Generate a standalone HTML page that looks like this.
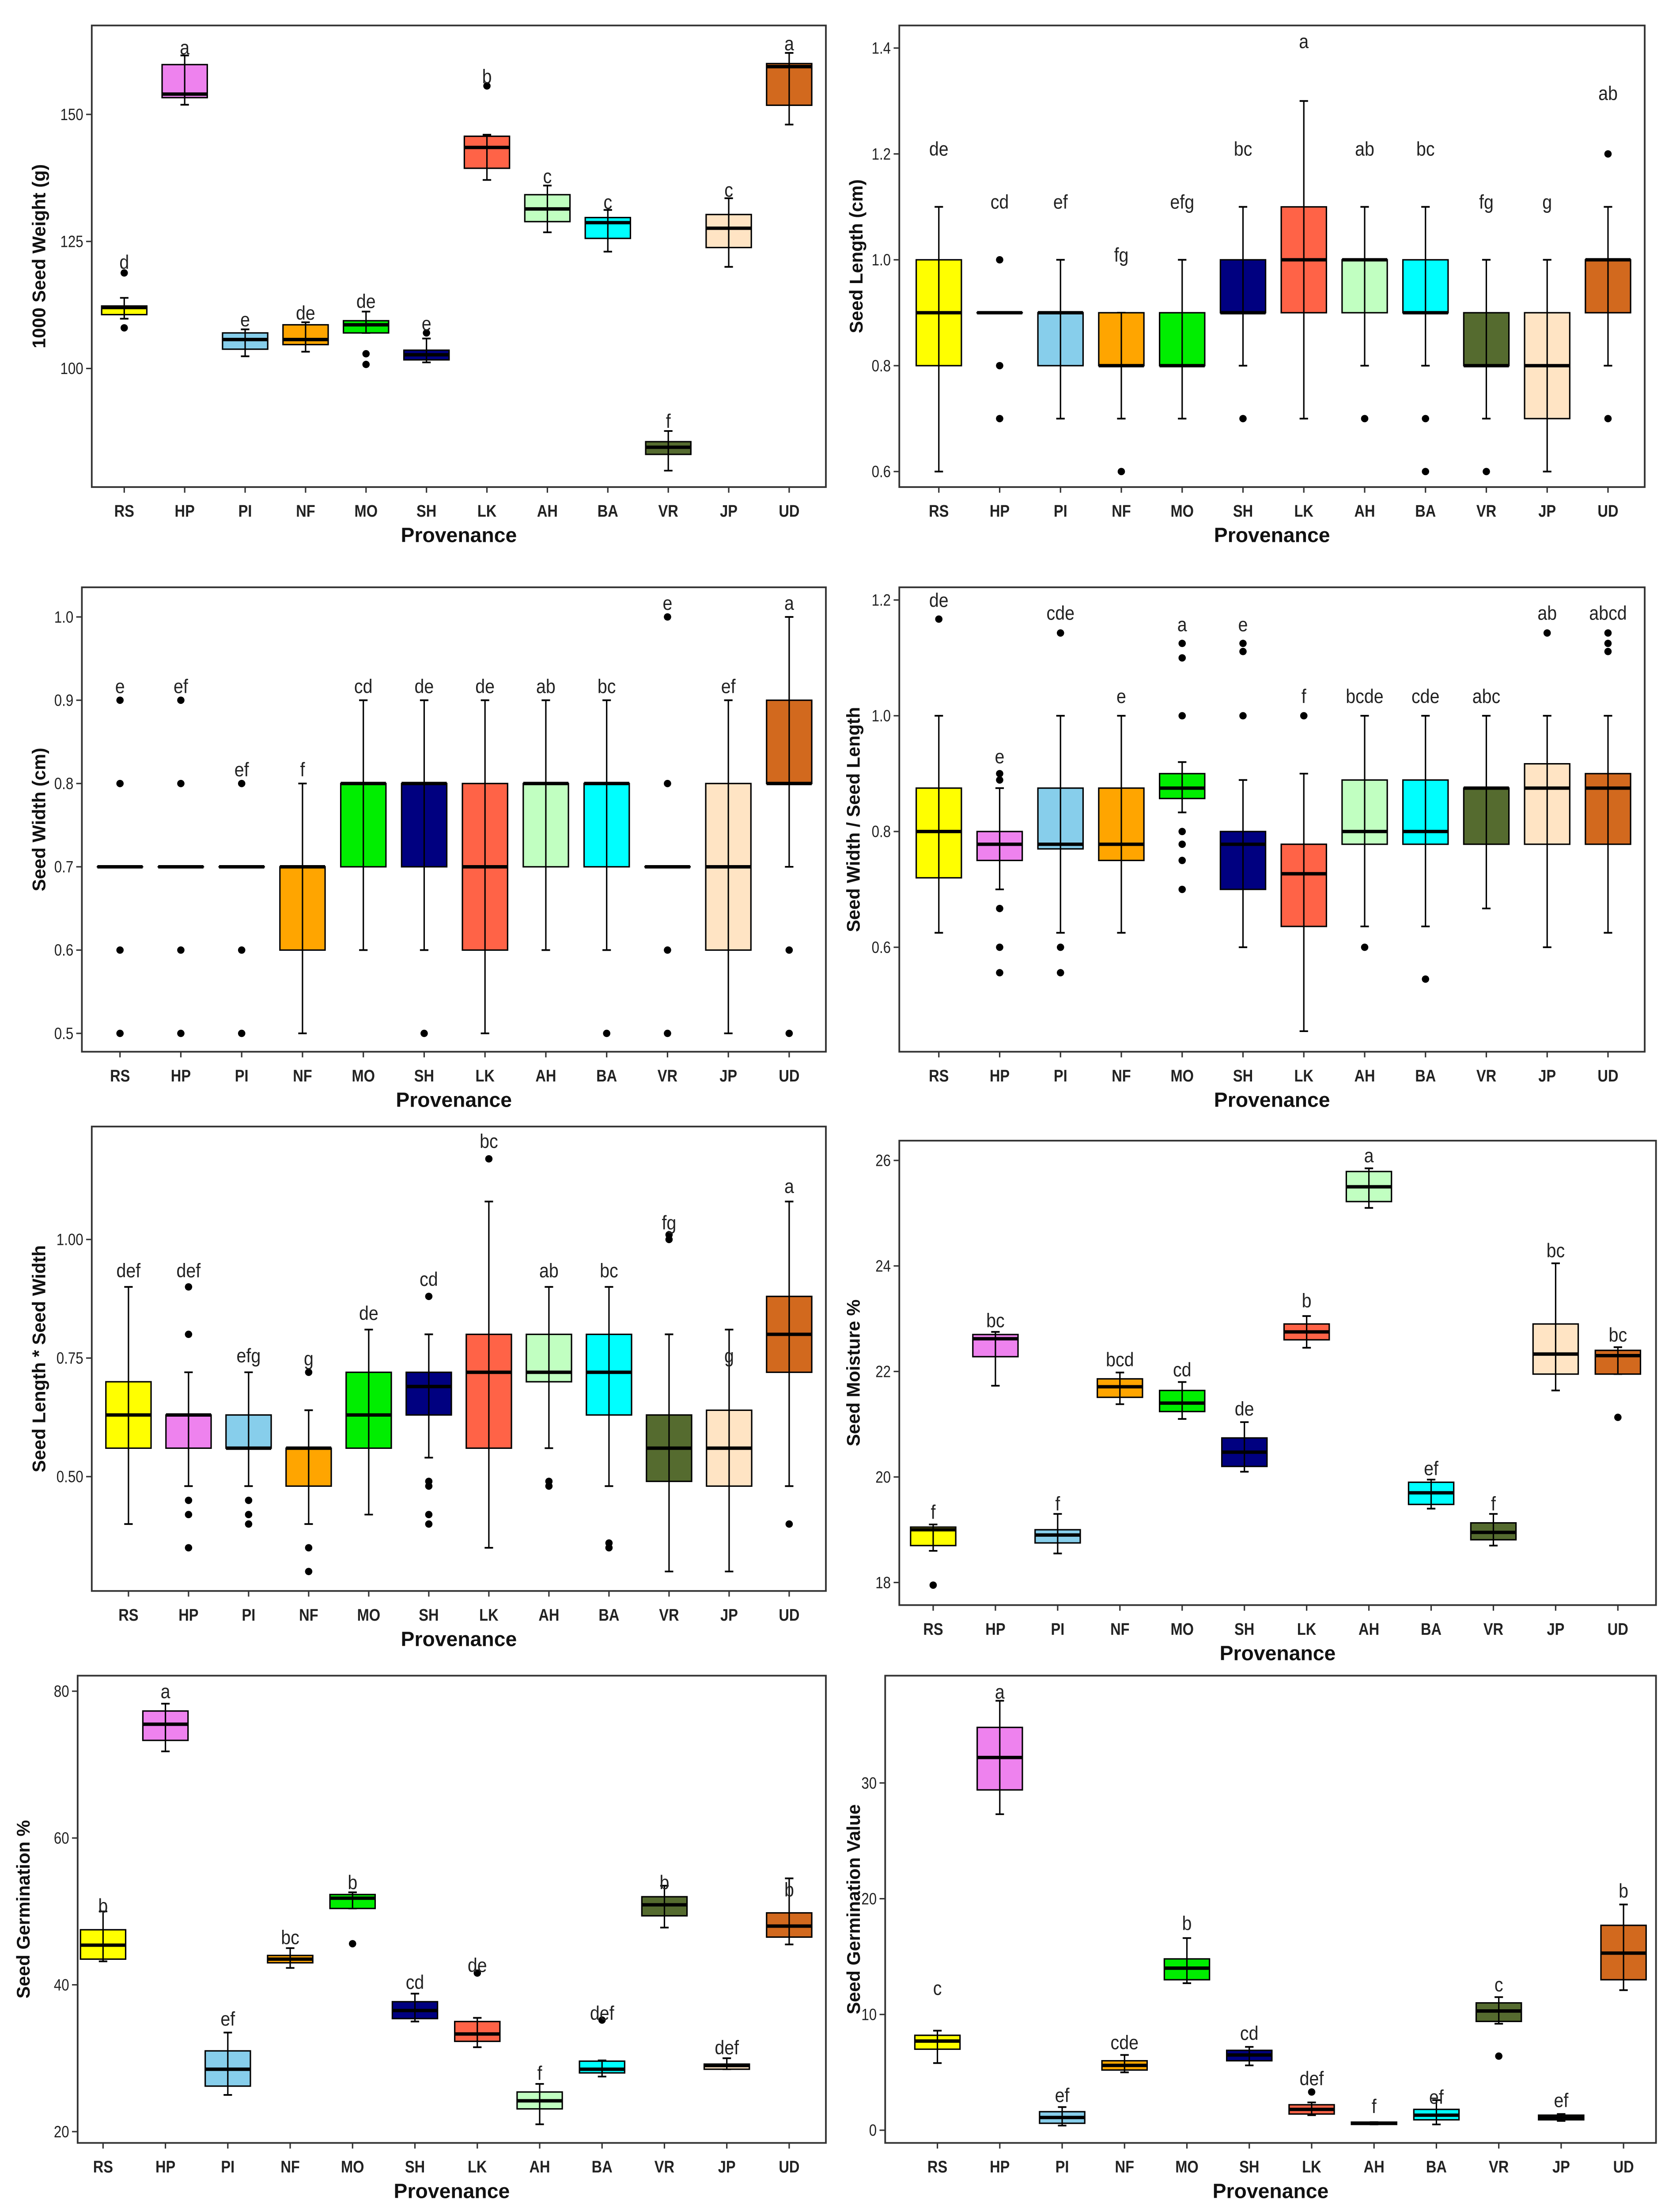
<!DOCTYPE html>
<html><head><meta charset="utf-8">
<style>
html,body{margin:0;padding:0;background:#fff;overflow:hidden;width:3804px;height:5003px;}
svg{display:block;position:absolute;left:0;top:0;}
text{font-family:"Liberation Sans",sans-serif;}
</style></head>
<body>
<svg id="root" width="3804" height="5003" viewBox="0 0 1190 1565" xmlns="http://www.w3.org/2000/svg">
<rect x="0" y="0" width="1190" height="1565" fill="#fff"/>
</svg>
<script>
const categories = ["RS","HP","PI","NF","MO","SH","LK","AH","BA","VR","JP","UD"];
const fills = ["#FFFF00","#EE82EE","#87CEEB","#FFA500","#00EE00","#000080","#FF6347","#C1FFC1","#00FFFF","#556B2F","#FFE4C4","#D2691E"];

// each series: [lowWhisker, q1, median, q3, highWhisker]
const weightStats = [[109.8,110.6,112.0,112.3,113.9],[151.9,153.3,154.0,159.8,161.6],[102.4,103.8,105.7,107.0,107.7],[103.3,104.7,105.7,108.6,109.1],[107.0,107.0,108.6,109.4,111.2],[101.2,101.7,102.7,103.6,105.9],[137.1,139.4,143.5,145.7,146.0],[126.8,128.9,131.4,134.2,136.0],[123.0,125.6,128.7,129.7,131.2],[79.9,83.1,84.5,85.6,87.7],[120.0,123.8,127.6,130.3,133.5],[148.0,151.8,159.4,160.0,162.1]];
const weightOutliers = [[118.8,108],[],[],[],[102.9,100.8],[107.0],[155.6],[],[],[],[],[]];
const weightLetters = ["d","a","e","de","de","e","b","c","c","f","c","a"];
const weightLetterPos = [121,163.2,109.7,111,113.3,108.9,157.5,137.9,132.8,89.7,135.2,164];

const lengthStats = [[0.6,0.8,0.9,1.0,1.1],[0.9,0.9,0.9,0.9,0.9],[0.7,0.8,0.9,0.9,1.0],[0.7,0.8,0.8,0.9,0.9],[0.7,0.8,0.8,0.9,1.0],[0.8,0.9,0.9,1.0,1.1],[0.7,0.9,1.0,1.1,1.3],[0.8,0.9,1.0,1.0,1.1],[0.8,0.9,0.9,1.0,1.1],[0.7,0.8,0.8,0.9,1.0],[0.6,0.7,0.8,0.9,1.0],[0.8,0.9,1.0,1.0,1.1]];
const lengthOutliers = [[],[1.0,0.8,0.7],[],[0.6],[],[0.7],[],[0.7],[0.7,0.6],[0.6],[],[1.2,0.7]];
const lengthLetters = ["de","cd","ef","fg","efg","bc","a","ab","bc","fg","g","ab"];
const lengthLetterPos = [1.21,1.11,1.11,1.01,1.11,1.21,1.413,1.21,1.21,1.11,1.11,1.315];

const widthStats = [[0.7,0.7,0.7,0.7,0.7],[0.7,0.7,0.7,0.7,0.7],[0.7,0.7,0.7,0.7,0.7],[0.5,0.6,0.7,0.7,0.8],[0.6,0.7,0.8,0.8,0.9],[0.6,0.7,0.8,0.8,0.9],[0.5,0.6,0.7,0.8,0.9],[0.6,0.7,0.8,0.8,0.9],[0.6,0.7,0.8,0.8,0.9],[0.7,0.7,0.7,0.7,0.7],[0.5,0.6,0.7,0.8,0.9],[0.7,0.8,0.8,0.9,1.0]];
const widthOutliers = [[0.9,0.8,0.6,0.5],[0.9,0.8,0.6,0.5],[0.8,0.6,0.5],[],[],[0.5],[],[],[0.5],[1.0,0.8,0.6,0.5],[],[0.6,0.5]];
const widthLetters = ["e","ef","ef","f","cd","de","de","ab","bc","e","ef","a"];
const widthLetterPos = [0.917,0.917,0.817,0.817,0.917,0.917,0.917,0.917,0.917,1.017,0.917,1.017];

const ratioStats = [[0.625,0.72,0.8,0.875,1.0],[0.7,0.75,0.778,0.8,0.875],[0.625,0.77,0.778,0.875,1.0],[0.625,0.75,0.778,0.875,1.0],[0.833,0.857,0.875,0.9,0.92],[0.6,0.7,0.778,0.8,0.889],[0.455,0.636,0.727,0.778,0.9],[0.636,0.778,0.8,0.889,1.0],[0.636,0.778,0.8,0.889,1.0],[0.667,0.778,0.875,0.875,1.0],[0.6,0.778,0.875,0.917,1.0],[0.625,0.778,0.875,0.9,1.0]];
const ratioOutliers = [[1.167],[0.9,0.889,0.667,0.6,0.556],[1.143,0.6,0.556],[],[1.125,1.1,1.0,0.8,0.778,0.75,0.7],[1.125,1.111,1.0],[1.0],[0.6],[0.545],[],[1.143],[1.143,1.125,1.111]];
const ratioLetters = ["de","e","cde","e","a","e","f","bcde","cde","abc","ab","abcd"];
const ratioLetterPos = [1.2,0.93,1.178,1.034,1.158,1.158,1.034,1.034,1.034,1.034,1.178,1.178];

const areaStats = [[0.40,0.56,0.63,0.70,0.90],[0.48,0.56,0.63,0.63,0.72],[0.48,0.56,0.56,0.63,0.72],[0.40,0.48,0.56,0.56,0.64],[0.42,0.56,0.63,0.72,0.81],[0.54,0.63,0.69,0.72,0.80],[0.35,0.56,0.72,0.80,1.08],[0.56,0.70,0.72,0.80,0.90],[0.48,0.63,0.72,0.80,0.90],[0.30,0.49,0.56,0.63,0.80],[0.30,0.48,0.56,0.64,0.81],[0.48,0.72,0.80,0.88,1.08]];
const areaOutliers = [[],[0.90,0.80,0.45,0.42,0.35],[0.45,0.42,0.40],[0.72,0.35,0.30],[],[0.88,0.49,0.48,0.42,0.40],[1.17],[0.49,0.48],[0.36,0.35],[1.0,1.01],[],[0.40]];
const areaLetters = ["def","def","efg","g","de","cd","bc","ab","bc","fg","g","a"];
const areaLetterPos = [0.935,0.935,0.756,0.75,0.845,0.917,1.208,0.935,0.935,1.036,0.756,1.113];

const moistStats = [[18.6,18.7,19.0,19.05,19.1],[21.73,22.28,22.62,22.7,22.75],[18.55,18.75,18.9,19.0,19.3],[21.38,21.51,21.71,21.86,21.98],[21.1,21.24,21.4,21.64,21.8],[20.1,20.2,20.47,20.74,21.04],[22.45,22.6,22.75,22.9,23.05],[25.1,25.22,25.5,25.79,25.85],[19.4,19.48,19.7,19.9,19.95],[18.7,18.81,18.95,19.13,19.3],[21.64,21.95,22.33,22.9,24.05],[21.95,21.95,22.3,22.4,22.46]];
const moistOutliers = [[17.95],[],[],[],[],[],[],[],[],[],[],[21.13]];
const moistLetters = ["f","bc","f","bcd","cd","de","b","a","ef","f","bc","bc"];
const moistLetterPos = [19.34,22.97,19.5,22.23,22.04,21.3,23.35,26.1,20.17,19.5,24.3,22.7];

const germStats = [[43.2,43.5,45.4,47.5,50],[71.8,73.3,75.5,77.3,78.3],[25,26.2,28.5,31,33.5],[42.3,43,43.5,44,45],[50.4,50.4,51.8,52.3,52.6],[35,35.4,36.5,37.7,38.8],[31.5,32.3,33.3,35,35.5],[21,23.1,24.2,25.4,26.5],[27.5,28,28.5,29.6,29.7],[47.8,49.4,50.9,52,53.5],[28.5,28.5,29,29.2,30],[45.5,46.5,48,49.8,54.5]];
const germOutliers = [[],[],[],[],[45.6],[],[41.6],[],[35.2],[],[],[]];
const germLetters = ["b","a","ef","bc","b","cd","de","f","def","b","def","b"];
const germLetterPos = [50.8,80,35.4,46.5,54,40.4,42.7,28,36.2,54,31.5,53];

const gvStats = [[5.8,7,7.7,8.2,8.6],[27.3,29.4,32.2,34.8,37.1],[0.4,0.6,1.1,1.6,2],[5.0,5.2,5.6,6.0,6.5],[12.7,13,14,14.8,16.6],[5.6,6,6.5,6.9,7.2],[1.3,1.4,1.8,2.2,2.4],[0.5,0.5,0.6,0.7,0.7],[0.5,0.9,1.3,1.8,2.6],[9.2,9.4,10.3,11,11.5],[0.8,0.9,1.1,1.3,1.4],[12.1,13,15.3,17.7,19.5]];
const gvOutliers = [[],[],[],[],[],[],[3.3],[],[],[6.4],[],[]];
const gvLetters = ["c","a","ef","cde","b","cd","def","f","ef","c","ef","b"];
const gvLetterPos = [12.3,37.9,3.05,7.6,17.9,8.4,4.5,2.1,2.9,12.6,2.6,20.7];

const weightTicks = [100,125,150];
const lengthTicks = [0.6,0.8,1.0,1.2,1.4];
const widthTicks = [0.5,0.6,0.7,0.8,0.9,1.0];
const ratioTicks = [0.6,0.8,1.0,1.2];
const areaTicks = [0.50,0.75,1.00];
const moistTicks = [18,20,22,24,26];
const germTicks = [20,40,60,80];
const gvTicks = [0,10,20,30];

const NS = "http://www.w3.org/2000/svg";
const root = document.getElementById("root");
function mk(tag, attrs, parent){const e=document.createElementNS(NS,tag);for(const k in attrs)e.setAttribute(k,attrs[k]);(parent||root).appendChild(e);return e;}

function panel(cfg){
  const g = mk("g",{});
  
  
  const k = (cfg.r2[1]-cfg.r1[1])/(cfg.r2[0]-cfg.r1[0]);
  const y = v => cfg.r1[1] + (v-cfg.r1[0])*k;
  const step = (cfg.cx1-cfg.cx0)/(categories.length-1);
  const x = i => cfg.cx0 + i*step;
  const bw = 16;
  const frame = mk("rect",{x:cfg.x0,y:cfg.y0,width:cfg.x1-cfg.x0,height:cfg.y1-cfg.y0,fill:"none",stroke:"#333",'stroke-width':1.2},g);
  
  
  cfg.ticks.forEach(t=>{
    const ty=y(t);
    mk("line",{x1:cfg.x0-4,x2:cfg.x0,y1:ty,y2:ty,stroke:"#333",'stroke-width':1},g);
    const tl = mk("text",{x:cfg.x0-6,y:ty+4,'text-anchor':'end','font-size':11.5,fill:"#222",transform:`translate(${cfg.x0-6},${ty}) scale(0.85,1) translate(${-(cfg.x0-6)},${-ty})`},g);
    tl.textContent = cfg.fmt(t);
    
    
  });
  categories.forEach((c,i)=>{
    const cx=x(i), s=cfg.stats[i];
    mk("line",{x1:cx,x2:cx,y1:cfg.y1,y2:cfg.y1+4,stroke:"#333",'stroke-width':1},g);
    const xl = mk("text",{x:cx,y:cfg.y1+21,'text-anchor':'middle','font-size':12,'font-weight':'bold',fill:"#222",transform:`translate(${cx},0) scale(0.85,1) translate(${-cx},0)`},g);
    xl.textContent=c;
    
    
    const bg = mk("g",{},g);
    
    
    mk("line",{x1:cx,x2:cx,y1:y(s[0]),y2:y(s[4]),stroke:"#000",'stroke-width':1},bg);
    mk("line",{x1:cx-3,x2:cx+3,y1:y(s[0]),y2:y(s[0]),stroke:"#000",'stroke-width':1.2},bg);
    mk("line",{x1:cx-3,x2:cx+3,y1:y(s[4]),y2:y(s[4]),stroke:"#000",'stroke-width':1.2},bg);
    const top=y(s[3]), bot=y(s[1]);
    mk("rect",{x:cx-bw,y:top,width:2*bw,height:Math.max(bot-top,0.01),fill:fills[i],stroke:"#000",'stroke-width':1},bg);
    mk("line",{x1:cx,x2:cx,y1:top,y2:bot,stroke:"#000",'stroke-width':1},bg);
    mk("line",{x1:cx-bw,x2:cx+bw,y1:y(s[2]),y2:y(s[2]),stroke:"#000",'stroke-width':2.4},bg);
    cfg.out[i].forEach(o=>{
      const d = mk("circle",{cx:cx,cy:y(o),r:2.6,fill:"#000"},bg);
      
      
    });
    const lt = mk("text",{x:cx,y:y(cfg.lpos[i])+5,'text-anchor':'middle','font-size':14,fill:"#222",transform:`translate(${cx},0) scale(0.88,1) translate(${-cx},0)`},g);
    lt.textContent=cfg.letters[i];
    
    
  });
  const xt = mk("text",{x:(cfg.x0+cfg.x1)/2,y:cfg.y1+39,'text-anchor':'middle','font-size':14.5,'font-weight':'bold',fill:"#111"},g);
  xt.textContent="Provenance";
  
  
  const cy=(cfg.y0+cfg.y1)/2;
  const yt = mk("text",{x:cfg.ytx,y:cy,'text-anchor':'middle','font-size':13,'font-weight':'bold',fill:"#111",transform:`rotate(-90 ${cfg.ytx} ${cy})`},g);
  yt.textContent=cfg.ytitle;
  
  
}
const f0=t=>String(t), f1=t=>t.toFixed(1), f2=t=>t.toFixed(2);
panel({name:'seed-weight-panel',x0:65,x1:585,y0:18,y1:345,r1:[150,81],r2:[100,261],cx0:88,cx1:559,ticks:weightTicks,fmt:f0,stats:weightStats,out:weightOutliers,letters:weightLetters,lpos:weightLetterPos,ytitle:"1000 Seed Weight (g)",ytx:32});
panel({name:'seed-length-panel',x0:637,x1:1165,y0:18,y1:345,r1:[1.4,34],r2:[0.6,334],cx0:665,cx1:1139,ticks:lengthTicks,fmt:f1,stats:lengthStats,out:lengthOutliers,letters:lengthLetters,lpos:lengthLetterPos,ytitle:"Seed Length (cm)",ytx:611});
panel({name:'seed-width-panel',x0:58,x1:585,y0:416,y1:745,r1:[1.0,437],r2:[0.5,732],cx0:85,cx1:559,ticks:widthTicks,fmt:f1,stats:widthStats,out:widthOutliers,letters:widthLetters,lpos:widthLetterPos,ytitle:"Seed Width (cm)",ytx:32});
panel({name:'width-length-ratio-panel',x0:637,x1:1165,y0:416,y1:745,r1:[1.2,425],r2:[0.6,671],cx0:665,cx1:1139,ticks:ratioTicks,fmt:f1,stats:ratioStats,out:ratioOutliers,letters:ratioLetters,lpos:ratioLetterPos,ytitle:"Seed Width / Seed Length",ytx:609});
panel({name:'length-times-width-panel',x0:65,x1:585,y0:798,y1:1127,r1:[1.0,878],r2:[0.5,1046],cx0:91,cx1:559,ticks:areaTicks,fmt:f2,stats:areaStats,out:areaOutliers,letters:areaLetters,lpos:areaLetterPos,ytitle:"Seed Length * Seed Width",ytx:32});
panel({name:'seed-moisture-panel',x0:637,x1:1173,y0:808,y1:1137,r1:[26,822],r2:[18,1121],cx0:661,cx1:1146,ticks:moistTicks,fmt:f0,stats:moistStats,out:moistOutliers,letters:moistLetters,lpos:moistLetterPos,ytitle:"Seed Moisture %",ytx:609});
panel({name:'seed-germination-panel',x0:55,x1:585,y0:1187,y1:1518,r1:[80,1198],r2:[20,1510],cx0:73,cx1:559,ticks:germTicks,fmt:f0,stats:germStats,out:germOutliers,letters:germLetters,lpos:germLetterPos,ytitle:"Seed Germination %",ytx:21});
panel({name:'germination-value-panel',x0:627,x1:1173,y0:1187,y1:1518,r1:[30,1263],r2:[0,1509],cx0:664,cx1:1150,ticks:gvTicks,fmt:f0,stats:gvStats,out:gvOutliers,letters:gvLetters,lpos:gvLetterPos,ytitle:"Seed Germination Value",ytx:609});
</script>
</body></html>
